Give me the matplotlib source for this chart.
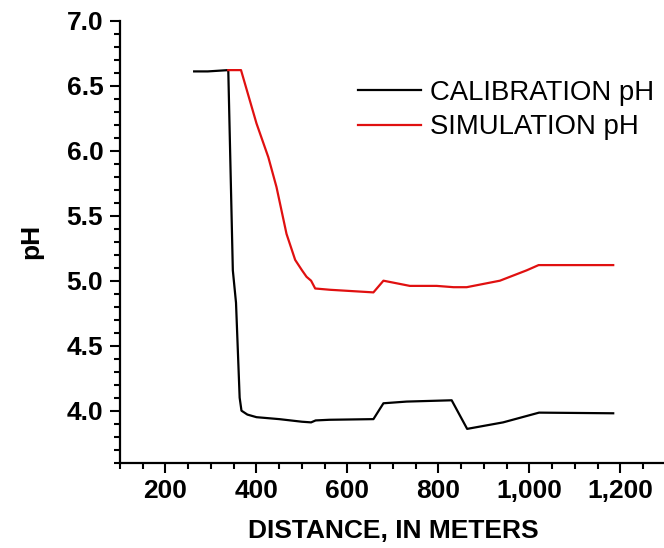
import matplotlib
matplotlib.use("Agg")
import matplotlib.pyplot as plt
from matplotlib.ticker import MultipleLocator, FuncFormatter

plt.rcParams['font.family'] = ['Liberation Sans', 'DejaVu Sans']

# calibration pH along the reach
cal_x = [263, 293, 338, 348, 355, 363, 367, 380, 400, 450, 500, 520, 530,
         560, 657, 679, 730, 829, 863, 942, 1021, 1184]
cal_y = [6.61, 6.61, 6.62, 5.08, 4.83, 4.1, 4.0, 3.97, 3.95, 3.935, 3.915,
         3.91, 3.925, 3.93, 3.935, 4.057, 4.07, 4.08, 3.86, 3.91, 3.985, 3.98]

# simulated pH
sim_x = [338, 366, 400, 426, 444, 466, 485, 500, 510, 520, 529, 562, 657, 679, 737,
         796, 833, 862, 935, 994, 1020, 1184]
sim_y = [6.62, 6.62, 6.21, 5.95, 5.72, 5.36, 5.16, 5.08, 5.03, 5.0, 4.94, 4.93, 4.91,
         5.0, 4.96, 4.96, 4.95, 4.95, 5.0, 5.08, 5.12, 5.12]

fig = plt.figure(figsize=(6.64, 5.48), dpi=100)
ax = fig.add_axes([0.1807, 0.1557, 0.8223, 0.8065])

ax.plot(cal_x, cal_y, color='black', lw=1.6, label='CALIBRATION pH')
ax.plot(sim_x, sim_y, color='#e01010', lw=1.6, label='SIMULATION pH')

ax.set_xlim(100, 1300)
ax.set_ylim(3.6, 7.0)

ax.xaxis.set_major_locator(MultipleLocator(200))
ax.xaxis.set_minor_locator(MultipleLocator(50))
ax.yaxis.set_major_locator(MultipleLocator(0.5))
ax.yaxis.set_minor_locator(MultipleLocator(0.1))
ax.xaxis.set_major_formatter(FuncFormatter(lambda v, p: f"{v:,.0f}" if v >= 200 else ""))
ax.yaxis.set_major_formatter(FuncFormatter(lambda v, p: f"{v:.1f}" if v >= 3.9 else ""))

for s in ['top', 'right']:
    ax.spines[s].set_visible(False)
for s in ['left', 'bottom']:
    ax.spines[s].set_linewidth(1.6)

ax.tick_params(which='major', direction='out', length=7, width=1.5, labelsize=19, pad=5)
ax.tick_params(which='minor', direction='out', length=4, width=1.5)
for lbl in ax.get_xticklabels() + ax.get_yticklabels():
    lbl.set_fontweight('bold')

ax.set_xlabel('DISTANCE, IN METERS', fontsize=19, fontweight='bold', labelpad=11)
ax.set_ylabel('pH', fontsize=19, fontweight='bold', labelpad=17)

ax.legend(loc='upper left', bbox_to_anchor=(358 / 664, (548 - 80) / 548),
          bbox_transform=fig.transFigure, frameon=False, fontsize=19.8,
          handlelength=2.3, handletextpad=0.3, labelspacing=0.3,
          borderpad=0, borderaxespad=0)

fig.savefig('out.png', dpi=100)
